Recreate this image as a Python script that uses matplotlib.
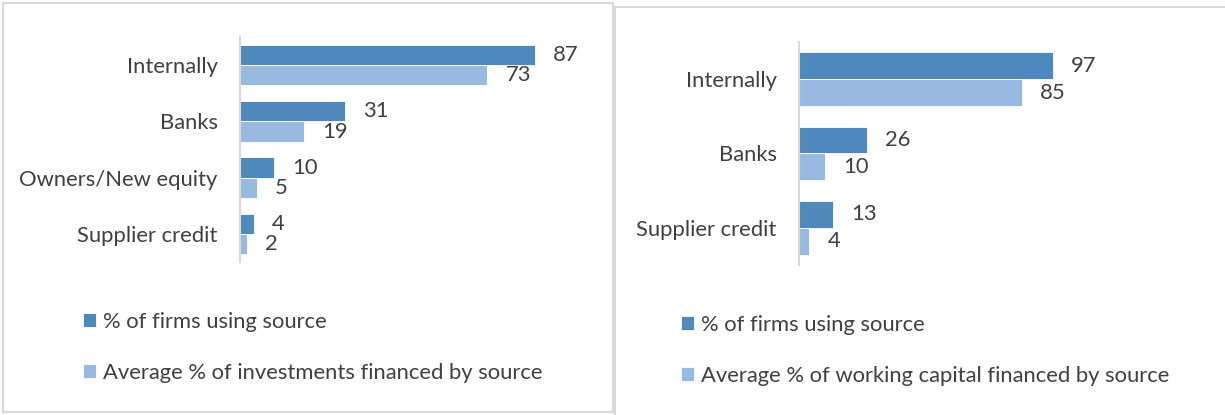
import matplotlib
matplotlib.use("Agg")
import matplotlib.pyplot as plt
from matplotlib.patches import Rectangle

plt.rcParams['font.family'] = ['Lato', 'DejaVu Sans']

# Left chart: investments
inv_categories = ["Internally", "Banks", "Owners/New equity", "Supplier credit"]
inv_firms = [87, 31, 10, 4]
inv_share = [73, 19, 5, 2]
inv_labels = ["% of firms using source",
              "Average % of investments financed by source"]

# Right chart: working capital
wc_categories = ["Internally", "Banks", "Supplier credit"]
wc_firms = [97, 26, 13]
wc_share = [85, 10, 4]
wc_labels = ["% of firms using source",
             "Average % of working capital financed by source"]

DARK = "#4E89BD"
LIGHT = "#99BAE0"
TEXT = "#404040"
GRID = "#D9D9D9"
FS = 15.8

W, H = 1225, 415
fig = plt.figure(figsize=(W / 100, H / 100), dpi=100)


def px_axes(x0, x1, y0, y1):
    # pixel box (top-left origin) -> figure fraction
    return fig.add_axes([x0 / W, 1 - y1 / H, (x1 - x0) / W, (y1 - y0) / H])


def draw_panel(ax, cats, firms, share, labels, leg_xy):
    n = len(cats)
    h = 0.36
    pos = list(range(n))
    b1 = ax.barh([p - h / 2 for p in pos], firms, height=h, color=DARK,
                 edgecolor="white", linewidth=0.6, label=labels[0])
    b2 = ax.barh([p + h / 2 for p in pos], share, height=h, color=LIGHT,
                 edgecolor="white", linewidth=0.6, label=labels[1])
    for bars in (b1, b2):
        for rect in bars:
            v = rect.get_width()
            ax.annotate(f"{v:g}", (v, rect.get_y() + rect.get_height() / 2),
                        xytext=(13, 0), textcoords="offset points",
                        va="center", ha="left", fontsize=FS, color=TEXT)
    ax.set_xlim(0, 100)
    ax.set_ylim(n - 0.5, -0.5)
    ax.set_yticks(pos)
    ax.set_yticklabels(cats, fontsize=FS, color=TEXT)
    ax.tick_params(axis="y", length=0, pad=16)
    ax.set_xticks([])
    for s in ("top", "right", "bottom"):
        ax.spines[s].set_visible(False)
    ax.spines["left"].set_color(GRID)
    ax.spines["left"].set_linewidth(1.5)
    ax.patch.set_alpha(0)
    fig.legend(handles=[b1, b2], labels=labels, loc="upper left",
               bbox_to_anchor=(leg_xy[0] / W, 1 - leg_xy[1] / H),
               frameon=False, fontsize=FS, labelcolor=TEXT,
               handlelength=0.6, handleheight=0.6, handletextpad=0.3,
               labelspacing=1.42, borderpad=0, borderaxespad=0)


# panel frames
fig.add_artist(Rectangle((3 / W, 1 - 412 / H), 610 / W, 409 / H,
                         transform=fig.transFigure, fill=False,
                         edgecolor=GRID, linewidth=1.5))
fig.add_artist(Rectangle((615 / W, -10 / H), 620 / W, (H + 10 - 7) / H,
                         transform=fig.transFigure, fill=False,
                         edgecolor=GRID, linewidth=1.5))

ax1 = px_axes(240, 579, 37, 262)
draw_panel(ax1, inv_categories, inv_firms, inv_share, inv_labels, (83, 312))

ax2 = px_axes(799, 1061, 42, 265)
draw_panel(ax2, wc_categories, wc_firms, wc_share, wc_labels, (681, 315))

fig.savefig("out.png", dpi=100)
